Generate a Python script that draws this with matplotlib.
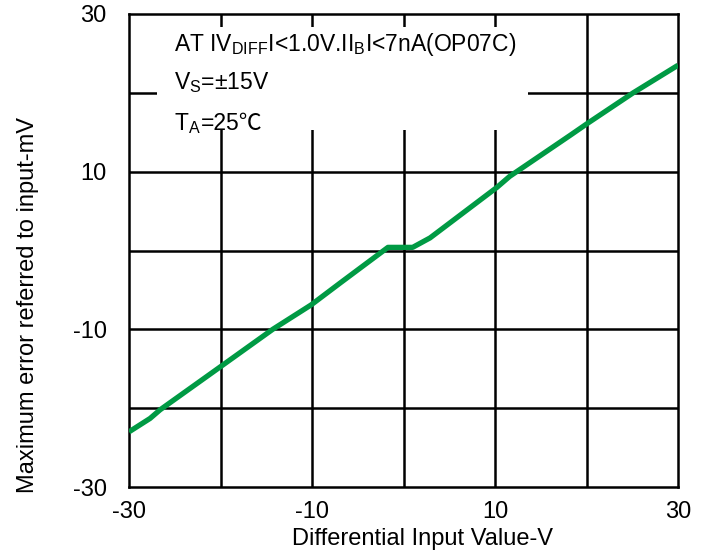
import matplotlib
matplotlib.use("Agg")
import matplotlib.pyplot as plt
from matplotlib.patches import Rectangle

plt.rcParams['font.family'] = ['Liberation Sans', 'Noto Sans CJK SC', 'DejaVu Sans']
plt.rcParams['mathtext.fontset'] = 'custom'
plt.rcParams['mathtext.rm'] = 'Liberation Sans'

# differential input (V) vs max error referred to input (mV)
vin = [-30, -27.7, -26.6, -20.2, -14.3, -10.1, -6.9, -1.7,
       1.0, 2.9, 10.2, 11.6, 18.2, 20.2, 25.1, 30]
err = [-23.0, -21.3, -20.2, -14.9, -10.0, -6.9, -4.1, 0.4,
       0.4, 1.6, 8.0, 9.4, 14.6, 16.2, 20.0, 23.5]

xticks = [-30, -10, 10, 30]
yticks = [-30, -10, 10, 30]
grid = [-20, -10, 0, 10, 20]

fig = plt.figure(figsize=(7.07, 5.53), dpi=100)
ax = fig.add_axes([0.1825, 0.1193, 0.7765, 0.8554])

for g in grid:
    ax.axvline(g, color='black', lw=1.8, zorder=1)
    ax.axhline(g, color='black', lw=1.8, zorder=1)

# white block behind the conditions text
ax.add_patch(Rectangle((0.051, 0.755), 0.676, 0.2175, transform=ax.transAxes,
                       facecolor='white', edgecolor='none', zorder=2))

ax.plot(vin, err, color='#009a44', lw=3.8, zorder=3, solid_capstyle='butt')

ax.set_xlim(-30, 30)
ax.set_ylim(-30, 30)
ax.set_xticks(xticks)
ax.set_yticks(yticks)
ax.set_xticklabels([str(t) for t in xticks])
ax.set_yticklabels([str(t) for t in yticks])
ax.tick_params(length=0, labelsize=17)
ax.tick_params(axis='x', pad=10)
ax.tick_params(axis='y', pad=16)
for s in ax.spines.values():
    s.set_linewidth(1.8)

ax.set_xlabel('Differential Input Value-V', fontsize=17, labelpad=4)
ax.set_ylabel('Maximum error referred to input-mV', fontsize=17, labelpad=24)
# labels in the original sit a bit off-centre
ax.xaxis.label.set_x(0.535)
ax.yaxis.label.set_y(0.385)

fs = 16.5
tx = 0.082
ax.text(tx, 0.935, r'AT I$\mathrm{V_{DIFF}}$I<1.0V.I$\mathrm{I_{B}}$I<7nA(OP07C)',
        transform=ax.transAxes, fontsize=fs, va='center', zorder=4)
ax.text(tx, 0.855, r'$\mathrm{V_{S}}$=±15V',
        transform=ax.transAxes, fontsize=fs, va='center', zorder=4)

# mathtext has no fallback for the degree-Celsius sign, so write it as plain text
ta = ax.text(tx, 0.755, r'$\mathrm{T_{A}}$', transform=ax.transAxes,
             fontsize=fs, va='baseline', zorder=4)
fig.canvas.draw()
w = ta.get_window_extent().width * 72 / fig.dpi
ax.annotate('=25℃', xy=(tx, 0.755), xycoords='axes fraction',
            xytext=(w, 0), textcoords='offset points',
            fontsize=fs, va='baseline', zorder=4)

fig.savefig('out.png', dpi=100)
